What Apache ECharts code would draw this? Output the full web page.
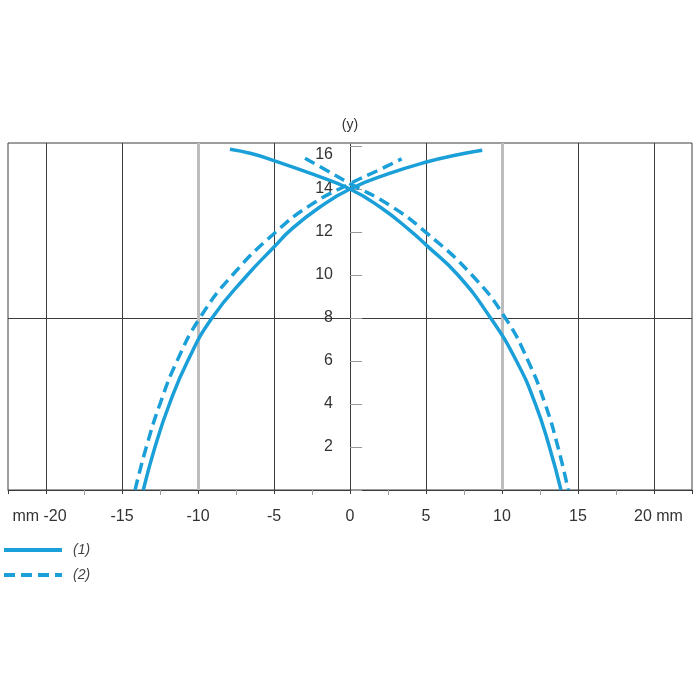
<!DOCTYPE html>
<html>
<head>
<meta charset="utf-8">
<script src="https://cdn.jsdelivr.net/npm/echarts@6/dist/echarts.min.js"></script>
<style>
html,body{margin:0;padding:0;background:#fff;}
#chart{width:700px;height:700px;}
</style>
</head>
<body>
<div id="chart"></div>
<script>
// ---- data ----
const seriesNames = ['(1)', '(2)'];
const xMin = -22.5, xMax = 22.5, xStep = 5;
const yMin = 0, yMax = 16.14, yStep = 2;
const yAxisName = '(y)';
const xUnitLeft = 'mm -20';
const xUnitRight = '20 mm';

// curve (1): two branches crossing near (0, 14)
const curve1Rise = [[-13.6,0],[-12.83,2],[-11.88,4],[-10.68,6],[-9.08,8],[-6.75,10],[-5,11.3],[-3.9,12.1],[-2,13.15],[0,14.0],[2.5,14.7],[5.1,15.27],[7,15.58],[8.7,15.8]];
const curve1Fall = [[-7.9,15.85],[-6.5,15.65],[-5,15.32],[-2.5,14.7],[0,14.0],[2,13.15],[3.9,12.1],[5,11.4],[7.1,10],[9.25,8],[10.95,6],[12.2,4],[13.12,2],[13.88,0]];
// curve (2): dashed, slightly wider
const curve2Rise = [[-14.14,0],[-13.4,2],[-12.5,4],[-11.38,6],[-9.88,8],[-7.73,10],[-4.88,12.0],[-2.6,13.25],[0,14.25],[1.8,14.85],[3.4,15.4]];
const curve2Fall = [[-2.96,15.43],[-1.5,14.85],[0,14.25],[2.6,13.25],[5.05,11.95],[8.02,10],[10.22,8],[11.72,6],[12.84,4],[13.68,2],[14.36,0]];

// ---- style ----
const BLUE = '#1a9fd8';
const DARK = '#3c3c3c';
const GRAY = '#bdbdbd';
const TXT = '#333';
const FONT = 'Liberation Sans, Arial, sans-serif';
const GRID_LEFT = 8, GRID_RIGHT = 8;

const chart = echarts.init(document.getElementById('chart'), null, {renderer: 'canvas'});

function xLabel(v) {
  if (Math.abs(v) > 21) return '';
  if (v === -20) return '{l|' + xUnitLeft + '}';
  if (v === 20) return '{r|' + xUnitRight + '}';
  return String(v);
}
function yLabel(v) {
  const n = Number(v);
  if (n === 0 || Math.abs(n % 2) > 1e-9) return '';
  if (n === 16) return '{t|16}';
  return String(n);
}

// split line colours: ticks are [-22.5,-20,-15,-10,-5,0,5,10,15,20,22.5]
const xSplitDark = ['transparent', DARK, DARK, 'transparent', DARK, DARK, DARK, 'transparent', DARK, DARK, 'transparent'];
const xSplitGray = ['transparent','transparent','transparent', GRAY,'transparent','transparent','transparent', GRAY,'transparent','transparent','transparent'];
// y ticks [0,2,...,16,16.14]
const ySplit = ['transparent','transparent','transparent','transparent', DARK,'transparent','transparent','transparent','transparent','transparent'];

function lineSeries(name, data, dashed) {
  return {
    name: name,
    type: 'line',
    data: data,
    symbol: 'none',
    smooth: 0.5,
    xAxisIndex: 0,
    yAxisIndex: 0,
    itemStyle: {color: BLUE},
    lineStyle: {color: BLUE, width: 3.5, type: dashed ? [11, 6] : 'solid', cap: 'butt'},
    emphasis: {disabled: true},
    z: 5
  };
}

const chartWidth = 700;
const yAxisOffset = -((chartWidth - GRID_LEFT - GRID_RIGHT) * (0 - xMin) / (xMax - xMin));

const option = {
  animation: false,
  backgroundColor: '#fff',
  textStyle: {fontFamily: FONT},
  grid: {
    left: GRID_LEFT, right: GRID_RIGHT, top: 143, bottom: 210,
    show: true, borderColor: DARK, borderWidth: 1,
    backgroundColor: 'transparent',
    containLabel: false, outerBoundsMode: 'none'
  },
  legend: {
    orient: 'vertical',
    left: 2, top: 543,
    padding: 0,
    itemWidth: 58, itemHeight: 14, itemGap: 11,
    data: seriesNames,
    itemStyle: {opacity: 0},
    lineStyle: {width: 4, opacity: 1},
    textStyle: {fontStyle: 'italic', fontSize: 14, color: '#444', fontFamily: FONT, padding: [0,0,0,6]}
  },
  xAxis: [
    {
      type: 'value', min: xMin, max: xMax, minInterval: xStep, maxInterval: xStep,
      position: 'bottom',
      axisLine: {show: true, onZero: false, lineStyle: {color: DARK, width: 1}},
      axisTick: {show: true, length: 4, lineStyle: {color: DARK}},
      minorTick: {show: true, splitNumber: 2, length: 5, lineStyle: {color: '#999'}},
      axisLabel: {
        formatter: xLabel, fontSize: 16, color: TXT, margin: 19, fontFamily: FONT,
        rich: {
          l: {fontSize: 16, color: TXT, fontFamily: FONT, padding: [0, 13, 0, 0]},
          r: {fontSize: 16, color: TXT, fontFamily: FONT, padding: [0, 0, 0, 9]}
        }
      },
      splitLine: {show: true, lineStyle: {color: xSplitDark, width: 1}}
    },
    {
      type: 'value', min: xMin, max: xMax, minInterval: xStep, maxInterval: xStep,
      position: 'top',
      axisLine: {show: false, onZero: false},
      axisTick: {show: false},
      axisLabel: {show: false},
      splitLine: {show: true, lineStyle: {color: xSplitGray, width: 3}}
    }
  ],
  yAxis: [
    {
      type: 'value', min: yMin, max: yMax, interval: yStep,
      position: 'left', offset: yAxisOffset,
      axisLine: {show: true, onZero: false, lineStyle: {color: DARK, width: 1}},
      axisTick: {show: true, inside: true, length: 12, lineStyle: {color: '#999'}},
      axisLabel: {
        show: true, formatter: yLabel, fontSize: 16, color: TXT, margin: 17, fontFamily: FONT,
        rich: {t: {fontSize: 16, color: TXT, fontFamily: FONT, padding: [18, 0, 0, 0]}}
      },
      splitLine: {show: true, lineStyle: {color: ySplit, width: 1}},
      name: yAxisName, nameLocation: 'end', nameGap: 11,
      nameTextStyle: {fontSize: 14, color: TXT, fontFamily: FONT, align: 'center'}
    }
  ],
  series: [
    lineSeries(seriesNames[0], curve1Rise, false),
    lineSeries(seriesNames[0], curve1Fall, false),
    lineSeries(seriesNames[1], curve2Rise, true),
    lineSeries(seriesNames[1], curve2Fall, true)
  ]
};
chart.setOption(option);
</script>
</body>
</html>
